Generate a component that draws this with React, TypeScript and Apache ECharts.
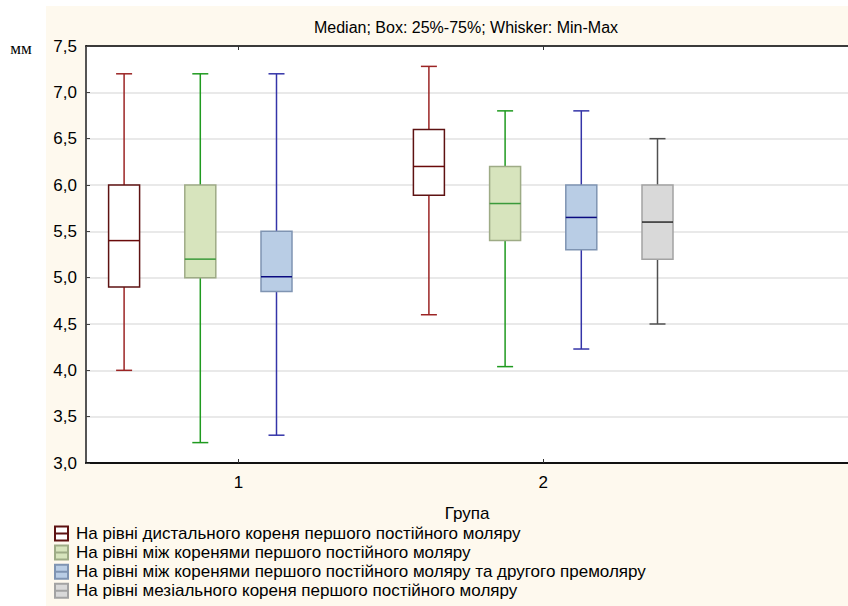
import React, { useEffect, useRef } from "react";
import * as echarts from "echarts";

// Group positions on the x axis
const groups: number[] = [1, 2];
const xTickLabels: string[] = ["1", "2"];

// Each entry: [min, q1, median, q3, max] per group; null = no data
const distalValues: (number[] | null)[] = [
  [4.0, 4.9, 5.4, 6.0, 7.2],
  [4.6, 5.89, 6.2, 6.6, 7.28],
];
const interRootValues: (number[] | null)[] = [
  [3.22, 5.0, 5.2, 6.0, 7.2],
  [4.04, 5.4, 5.8, 6.2, 6.8],
];
const premolarValues: (number[] | null)[] = [
  [3.3, 4.85, 5.01, 5.5, 7.2],
  [4.23, 5.3, 5.65, 6.0, 6.8],
];
const mesialValues: (number[] | null)[] = [
  null,
  [4.5, 5.2, 5.6, 6.0, 6.5],
];

const seriesNames: string[] = [
  "На рівні дистального кореня першого постійного моляру",
  "На рівні між коренями першого постійного моляру",
  "На рівні між коренями першого постійного моляру та другого премоляру",
  "На рівні мезіального кореня першого постійного моляру",
];

const styles = [
  { fill: "#ffffff", border: "#5e1212", whisker: "#9b2424", median: "#6a0a0a" },
  { fill: "#d7e4bd", border: "#9eab86", whisker: "#1f9a1f", median: "#3a9a3a" },
  { fill: "#b9cde5", border: "#7f94b2", whisker: "#3434a8", median: "#0a0a80" },
  { fill: "#d9d9d9", border: "#a3a3a3", whisker: "#505050", median: "#2a2a2a" },
];

const FONT = "'Liberation Sans', Arial, sans-serif";

export default function App() {
  const ref = useRef<HTMLDivElement>(null);
  useEffect(() => {
    if (!ref.current) return;
    const chart = echarts.init(ref.current, undefined, { renderer: "svg" });
    const allValues = [distalValues, interRootValues, premolarValues, mesialValues];

    const BOX_W = 31;
    const CAP_W = 16;

    const series = allValues.map((vals, si) => {
      const st = styles[si];
      const data: number[][] = [];
      vals.forEach((v, gi) => {
        if (v) data.push([groups[gi], ...v]);
      });
      return {
        type: "custom",
        name: seriesNames[si],
        itemStyle: { color: st.fill, borderColor: st.border, borderWidth: 1.5 },
        encode: { x: 0, y: [1, 2, 3, 4, 5] },
        data,
        renderItem: (params: any, api: any) => {
          const off = (params.seriesIndex - 1.5) * 0.25;
          const gx = api.value(0) + off;
          const cx = api.coord([gx, 3])[0];
          const yMin = api.coord([gx, api.value(1)])[1];
          const yQ1 = api.coord([gx, api.value(2)])[1];
          const yMed = api.coord([gx, api.value(3)])[1];
          const yQ3 = api.coord([gx, api.value(4)])[1];
          const yMax = api.coord([gx, api.value(5)])[1];
          const wStyle = { stroke: st.whisker, lineWidth: 1.5 };
          return {
            type: "group",
            children: [
              { type: "line", shape: { x1: cx, y1: yMin, x2: cx, y2: yQ1 }, style: wStyle },
              { type: "line", shape: { x1: cx, y1: yQ3, x2: cx, y2: yMax }, style: wStyle },
              { type: "line", shape: { x1: cx - CAP_W / 2, y1: yMin, x2: cx + CAP_W / 2, y2: yMin }, style: wStyle },
              { type: "line", shape: { x1: cx - CAP_W / 2, y1: yMax, x2: cx + CAP_W / 2, y2: yMax }, style: wStyle },
              {
                type: "rect",
                shape: { x: cx - BOX_W / 2, y: yQ3, width: BOX_W, height: yQ1 - yQ3 },
                style: { fill: st.fill, stroke: st.border, lineWidth: 1.5 },
              },
              { type: "line", shape: { x1: cx - BOX_W / 2, y1: yMed, x2: cx + BOX_W / 2, y2: yMed }, style: { stroke: st.median, lineWidth: 1.5 } },
            ],
          };
        },
      };
    });

    const option: any = {
      animation: false,
      backgroundColor: "#fef9ee",
      textStyle: { fontFamily: FONT },
      graphic: [
        { type: "rect", silent: true, z: 0, shape: { x: 0, y: 0, width: 46, height: 606 }, style: { fill: "#ffffff" } },
        { type: "rect", silent: true, z: 0, shape: { x: 0, y: 0, width: 848, height: 6 }, style: { fill: "#ffffff" } },
        {
          type: "text",
          z: 5,
          x: 466,
          y: 27,
          style: { text: "Median; Box: 25%-75%; Whisker: Min-Max", align: "center", verticalAlign: "middle", fontSize: 16, fontFamily: FONT, fill: "#000" },
        },
        {
          type: "text",
          z: 5,
          x: 21,
          y: 48,
          style: { text: "мм", align: "center", verticalAlign: "middle", fontSize: 17, fontFamily: "'Liberation Serif', 'Times New Roman', serif", fill: "#000" },
        },
      ],
      grid: { left: 86, right: 0, top: 46, bottom: 143, show: true, backgroundColor: "#ffffff", borderWidth: 0 },
      legend: {
        orient: "vertical",
        left: 54,
        top: 525,
        height: 81,
        padding: 0,
        itemWidth: 13,
        itemHeight: 14,
        itemGap: 2.1,
        icon: "path://M0,0 H13 V14 H0 Z M0,7 H13",
        textStyle: { fontSize: 17, fontFamily: FONT, color: "#000", padding: [0, 0, 0, 3] },
        data: seriesNames,
      },
      xAxis: [
        {
          type: "value",
          position: "bottom",
          min: 0.5,
          max: 3,
          name: "Група",
          nameLocation: "middle",
          nameGap: 42,
          nameTextStyle: { fontSize: 17, fontFamily: FONT, color: "#000" },
          axisLine: { show: true, onZero: false, lineStyle: { color: "#111", width: 2 } },
          axisTick: { show: true, inside: true, length: 4, customValues: groups, lineStyle: { color: "#333" } },
          axisLabel: {
            customValues: groups,
            formatter: (v: number) => xTickLabels[groups.indexOf(v)] ?? "",
            fontSize: 17,
            fontFamily: FONT,
            color: "#000",
            margin: 11,
          },
          splitLine: { show: false },
        },
        {
          type: "value",
          position: "top",
          min: 0.5,
          max: 3,
          axisLine: { show: true, onZero: false, lineStyle: { color: "#000", width: 1.5 } },
          axisTick: { show: true, inside: true, length: 4, customValues: groups, lineStyle: { color: "#333" } },
          axisLabel: { show: false },
          splitLine: { show: false },
        },
      ],
      yAxis: {
        type: "value",
        min: 3,
        max: 7.5,
        interval: 0.5,
        axisLine: { show: true, onZero: false, lineStyle: { color: "#555", width: 2 } },
        axisTick: { show: true, inside: true, length: 4, lineStyle: { color: "#444" } },
        axisLabel: {
          formatter: (v: number) => v.toFixed(1).replace(".", ","),
          fontSize: 17,
          fontFamily: FONT,
          color: "#000",
          margin: 9,
        },
        splitLine: { show: true, lineStyle: { color: "#e2e2e2", width: 1.5 } },
      },
      series,
    };
    chart.setOption(option);
    return () => chart.dispose();
  }, []);
  return <div ref={ref} style={{ position: "fixed", left: 0, top: 0, width: 848, height: 606 }} />;
}
